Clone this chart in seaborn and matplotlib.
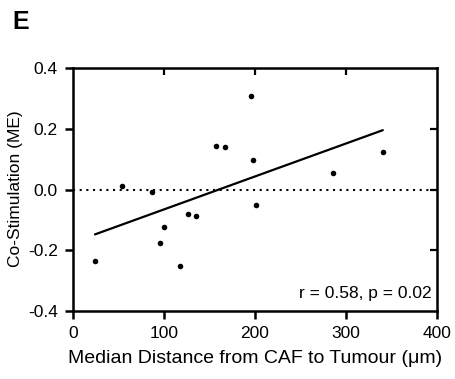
import numpy as np
import pandas as pd
import seaborn as sns
import matplotlib.pyplot as plt
import matplotlib.lines as mlines

# %% data
distance = [23.9, 53.9, 86.2, 95.0, 99.8, 117.4, 125.9, 134.7,
            157.1, 167.0, 195.6, 197.4, 201.1, 286.2, 340.6]
costim = [-0.234, 0.013, -0.007, -0.177, -0.124, -0.251, -0.079, -0.085,
          0.145, 0.140, 0.308, 0.099, -0.051, 0.055, 0.124]
x_ticks = [0, 100, 200, 300, 400]
y_ticks = [-0.4, -0.2, 0.0, 0.2, 0.4]
stats_label = "r = 0.58, p = 0.02"

df = pd.DataFrame({'distance': distance, 'costim': costim})

# %% figure
sns.set_style('ticks')
plt.rcParams['font.family'] = ['Liberation Sans', 'DejaVu Sans']

fig, ax = plt.subplots(figsize=(4.55, 3.79), dpi=100)
fig.subplots_adjust(left=0.161, right=0.960, bottom=0.179, top=0.820)

ax.axhline(0, color='black', linestyle=(0, (1, 2.2)), linewidth=1.5, zorder=1)
sns.regplot(data=df, x='distance', y='costim', ci=None, ax=ax,
            scatter_kws={'s': 16, 'color': 'black', 'alpha': 1, 'linewidths': 0},
            line_kws={'color': 'black', 'linewidth': 1.6})

ax.set_xlim(0, 400)
ax.set_ylim(-0.4, 0.4)
ax.set_xticks(x_ticks)
ax.set_yticks(y_ticks)
ax.set_yticklabels([f'{v:.1f}' for v in y_ticks])
ax.set_xlabel('Median Distance from CAF to Tumour (\u03bcm)', fontsize=14,
              labelpad=6, color='black')
ax.set_ylabel('')
ax.tick_params(width=1.8, length=6, color='black')
ax.tick_params(labelsize=12.5, pad=5)
for lab in ax.get_xticklabels() + ax.get_yticklabels():
    lab.set_color('black')

for side in ['left', 'right', 'top', 'bottom']:
    ax.spines[side].set_visible(True)
    ax.spines[side].set_linewidth(1.8)
    ax.spines[side].set_color('black')

# inward ticks on top and right
tick_kw = dict(linestyle='none', markersize=5, mew=1.6, color='black', clip_on=False)
ax.plot(x_ticks[1:-1], [1] * len(x_ticks[1:-1]), transform=ax.get_xaxis_transform(),
        marker=mlines.TICKDOWN, **tick_kw)
ax.plot([1] * len(y_ticks[1:-1]), y_ticks[1:-1], transform=ax.get_yaxis_transform(),
        marker=mlines.TICKLEFT, **tick_kw)
ax.set_xlim(0, 400)
ax.set_ylim(-0.4, 0.4)

ax.text(0.985, 0.04, stats_label, transform=ax.transAxes,
        ha='right', va='bottom', fontsize=12.5, color='black')

fig.text(16 / 455, 1 - 189 / 379, 'Co-Stimulation (ME)', rotation=90,
         ha='center', va='center', fontsize=12.5, color='black')
fig.text(12 / 455, 1 - 22 / 379, 'E', fontsize=18, fontweight='bold',
         ha='left', va='center', color='black')

fig.savefig('out.png', dpi=100)
